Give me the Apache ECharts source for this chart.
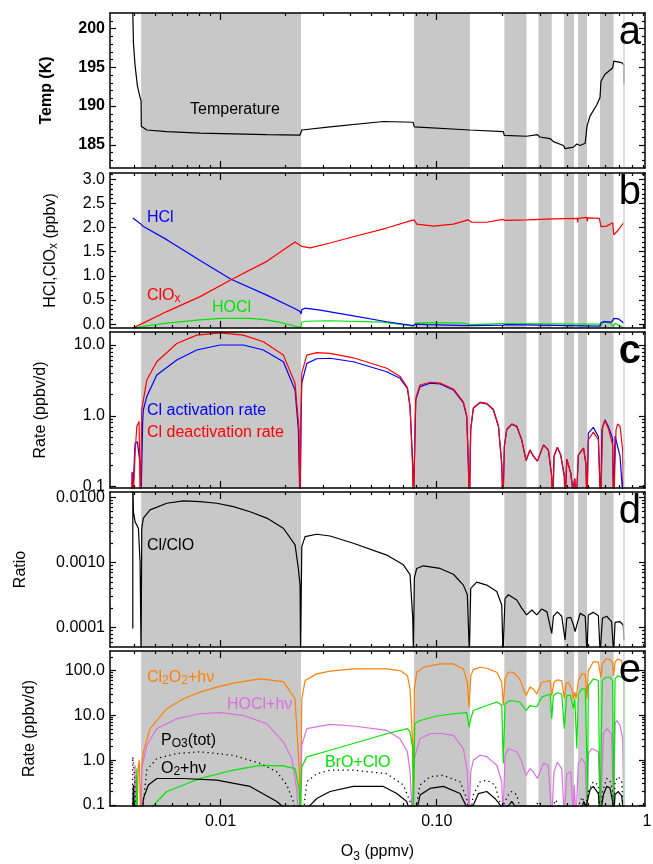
<!DOCTYPE html>
<html><head><meta charset="utf-8">
<script src="https://cdn.jsdelivr.net/npm/echarts@6/dist/echarts.min.js"></script>
<style>html,body{margin:0;padding:0;background:#fff}#c{width:653px;height:864px}</style>
</head><body><div id="c"></div>
<script>
// ---------------- data ----------------
const nightBands = [[0.00429,0.02357],[0.0786,0.1423],[0.2054,0.2603],[0.2955,0.3403],[0.3880,0.4315],[0.4505,0.4955],[0.5691,0.6576]];
const endMarkerO3 = 0.7345;

const xMajorTicks = [0.01, 0.1];
const xMinorTicks = [0.004,0.005,0.006,0.007,0.008,0.009,0.02,0.03,0.04,0.05,0.06,0.07,0.08,0.09,0.2,0.3,0.4,0.5,0.6,0.7,0.8,0.9];
const xEndLabel = '1';

const tempTicks = [185,190,195,200];
const tempMinor = [183,184,186,187,188,189,191,192,193,194,196,197,198,199,201];
const chemTicks = [0,0.5,1,1.5,2,2.5,3];
const chemMinor = [0.1,0.2,0.3,0.4,0.6,0.7,0.8,0.9,1.1,1.2,1.3,1.4,1.6,1.7,1.8,1.9,2.1,2.2,2.3,2.4,2.6,2.7,2.8,2.9,3.1];
const rateTicks = [0.1,1,10];
const rateMinor = [0.2,0.3,0.4,0.5,0.6,0.7,0.8,0.9,2,3,4,5,6,7,8,9];
const ratioTicks = [0.0001,0.001,0.01];
const ratioMinor = [0.00006,0.00007,0.00008,0.00009,0.0002,0.0003,0.0004,0.0005,0.0006,0.0007,0.0008,0.0009,0.002,0.003,0.004,0.005,0.006,0.007,0.008,0.009];
const rateETicks = [0.1,1,10,100];
const rateEMinor = [0.2,0.3,0.4,0.5,0.6,0.7,0.8,0.9,2,3,4,5,6,7,8,9,20,30,40,50,60,70,80,90,200];

const temperature = [[0.00390,203],[0.003927,202],[0.003952,198.2],[0.004024,195.2],[0.004124,192.6],[0.004243,191.1],[0.004288,190.7],[0.00430,187.4],[0.004557,186.9],[0.005638,186.7],[0.008038,186.5],[0.01146,186.4],[0.01636,186.3],[0.02332,186.25],[0.02357,186.3],[0.02375,186.9],[0.0321,187.3],[0.0566,188.0],[0.0778,187.9],[0.07878,187.3],[0.1423,186.9],[0.1426,186.7],[0.2032,186.7],[0.2054,186.2],[0.2603,186.1],[0.2922,186.3],[0.2955,186.4],[0.3000,186.0],[0.306,185.9],[0.3345,185.8],[0.3465,185.4],[0.3855,184.9],[0.3922,184.5],[0.4289,184.7],[0.4444,185.1],[0.4605,184.9],[0.4861,185.2],[0.4954,187.4],[0.5117,188.7],[0.551,190.2],[0.5691,191.1],[0.5750,193.2],[0.6001,194.1],[0.6507,194.9],[0.6597,195.8],[0.7168,195.6],[0.7345,195.3],[0.7346,192.8]];

const hcl = [[0.003927,2.20],[0.004288,2.07],[0.00432,2.04],[0.004395,2.02],[0.005638,1.75],[0.008038,1.32],[0.01118,0.93],[0.01636,0.60],[0.02211,0.32],[0.02332,0.26],[0.02357,0.21],[0.02375,0.30],[0.0246,0.33],[0.02885,0.29],[0.04114,0.17],[0.05871,0.05],[0.0780,-0.03],[0.0786,-0.04],[0.0800,0.0],[0.0900,-0.01],[0.1423,-0.03],[0.1426,-0.01],[0.2032,-0.02],[0.2054,-0.03],[0.2108,-0.01],[0.5691,-0.04],[0.5750,0.03],[0.5898,0.05],[0.6440,0.04],[0.6576,0.03],[0.6597,0.12],[0.6915,0.11],[0.7345,0.02]];
const hocl = [[0.003927,-0.08],[0.004288,-0.05],[0.005638,0.02],[0.008038,0.09],[0.00995,0.12],[0.01369,0.12],[0.01636,0.09],[0.01952,0.02],[0.0229,-0.06],[0.02357,-0.06],[0.02375,0.04],[0.0246,0.06],[0.0321,0.07],[0.0566,0.04],[0.0780,-0.04],[0.0786,-0.05],[0.0800,0.02],[0.0900,0.03],[0.1328,0.02],[0.1423,-0.01],[0.1451,0.02],[0.2032,0.01],[0.2054,-0.01],[0.2108,0.01],[0.5652,0.0],[0.5731,-0.05],[0.5898,0.04],[0.6328,0.02],[0.6576,-0.05],[0.668,0.02],[0.7345,-0.08]];
const clox = [[0.003927,-0.08],[0.004288,0.0],[0.005638,0.26],[0.008038,0.57],[0.01118,0.92],[0.01636,1.30],[0.02211,1.70],[0.02375,1.61],[0.02596,1.58],[0.0321,1.68],[0.04114,1.81],[0.05871,1.99],[0.07525,2.14],[0.0786,2.16],[0.08082,2.07],[0.09645,2.03],[0.1194,2.07],[0.1396,2.16],[0.1451,2.11],[0.1703,2.11],[0.2019,2.17],[0.2070,2.15],[0.2603,2.16],[0.3465,2.18],[0.4476,2.19],[0.4480,2.11],[0.4518,2.19],[0.4954,2.21],[0.4970,2.13],[0.5000,2.20],[0.5652,2.19],[0.5750,2.02],[0.6108,2.03],[0.6507,2.10],[0.6597,1.85],[0.6915,1.95],[0.7345,2.11]];

const activationRate = [[0.003885,0.05],[0.003900,0.16],[0.003927,0.05],[0.003952,0.12],[0.004024,0.41],[0.004124,0.43],[0.004243,0.21],[0.00428,0.05],[0.0043,0.05],[0.00436,0.8],[0.004395,1.22],[0.004557,1.87],[0.00507,3.78],[0.006272,6.15],[0.007759,8.5],[0.00995,10],[0.01275,10],[0.01578,8.5],[0.01952,5.8],[0.02211,2.32],[0.0229,0.64],[0.02332,0.05],[0.02357,0.9],[0.02375,2.89],[0.02505,5.5],[0.02786,6.4],[0.0321,6.5],[0.04114,5.8],[0.05871,4.2],[0.06765,3.39],[0.07315,2.45],[0.07525,1.35],[0.07745,0.21],[0.0780,0.05],[0.07997,1.68],[0.0837,2.59],[0.09311,2.89],[0.1036,2.82],[0.1194,2.32],[0.1328,1.52],[0.1376,0.98],[0.1400,0.21],[0.1416,0.05],[0.1436,0.64],[0.1477,1.28],[0.1586,1.54],[0.1703,1.48],[0.1827,1.22],[0.1929,0.71],[0.1998,0.21],[0.2025,0.05],[0.2054,0.37],[0.2108,0.64],[0.2223,0.76],[0.2344,0.71],[0.2472,0.46],[0.2588,0.235],[0.2701,0.33],[0.2798,0.27],[0.2922,0.23],[0.3118,0.39],[0.3283,0.33],[0.3403,0.14],[0.3440,0.05],[0.3487,0.27],[0.3613,0.36],[0.3746,0.28],[0.3893,0.14],[0.3922,0.05],[0.3994,0.245],[0.4063,0.25],[0.4167,0.156],[0.4260,0.09],[0.4352,0.13],[0.4412,0.05],[0.4518,0.28],[0.4773,0.35],[0.4899,0.21],[0.4954,0.05],[0.5025,0.57],[0.530,0.69],[0.5592,0.51],[0.5731,0.05],[0.5811,0.64],[0.6001,0.88],[0.622,0.71],[0.6507,0.48],[0.6576,0.05],[0.668,0.52],[0.6800,0.5],[0.7044,0.27],[0.7243,0.08],[0.7345,0.24]];
const deactivationRate = [[0.003885,0.05],[0.003900,0.16],[0.003927,0.05],[0.004024,0.3],[0.004098,0.71],[0.004198,0.83],[0.004243,0.8],[0.004257,0.05],[0.0043,0.05],[0.00432,1.22],[0.004395,1.68],[0.004557,3.2],[0.00507,5.8],[0.006272,10.5],[0.007759,13.8],[0.00995,14.8],[0.01275,13.8],[0.01578,11.1],[0.01952,7.2],[0.02211,2.89],[0.02307,0.64],[0.02332,0.05],[0.02357,1.2],[0.02375,4.0],[0.02505,7.2],[0.02786,7.8],[0.0321,7.6],[0.04114,6.6],[0.05871,4.7],[0.06765,3.6],[0.07315,2.5],[0.07525,1.35],[0.07745,0.17],[0.0780,0.05],[0.07997,1.78],[0.0837,2.73],[0.09311,2.98],[0.1036,2.9],[0.1194,2.4],[0.1328,1.56],[0.1376,1.0],[0.1400,0.21],[0.1416,0.05],[0.1436,0.66],[0.1477,1.3],[0.1586,1.56],[0.1703,1.5],[0.1827,1.24],[0.1929,0.72],[0.1998,0.21],[0.2025,0.05],[0.2054,0.37],[0.2108,0.65],[0.2223,0.77],[0.2344,0.72],[0.2472,0.46],[0.2588,0.235],[0.2701,0.33],[0.2798,0.27],[0.2922,0.23],[0.3118,0.39],[0.3283,0.33],[0.3403,0.14],[0.3440,0.05],[0.3487,0.27],[0.3613,0.36],[0.3746,0.28],[0.3893,0.14],[0.3922,0.05],[0.3994,0.245],[0.4063,0.25],[0.4167,0.156],[0.4260,0.09],[0.4352,0.13],[0.4412,0.05],[0.4518,0.28],[0.4773,0.35],[0.4899,0.21],[0.4954,0.05],[0.5025,0.46],[0.530,0.59],[0.5592,0.46],[0.5731,0.05],[0.5853,0.71],[0.6001,0.86],[0.622,0.66],[0.6507,0.39],[0.6576,0.05],[0.6751,0.64],[0.6872,0.77],[0.7044,0.71],[0.7243,0.33],[0.7345,0.05]];

const clToClo = [[0.003927,0.000097],[0.003927,0.02],[0.003952,0.006],[0.004024,0.0042],[0.004168,0.00335],[0.004243,0.00103],[0.004288,0.00004],[0.00432,0.00335],[0.004395,0.0048],[0.004719,0.0064],[0.005638,0.0081],[0.006729,0.0088],[0.008038,0.0086],[0.009603,0.0081],[0.01146,0.00718],[0.01369,0.006],[0.01636,0.0048],[0.01952,0.00335],[0.02211,0.00186],[0.0229,0.00081],[0.02332,0.00045],[0.02345,0.00004],[0.02375,0.00175],[0.0246,0.00249],[0.02786,0.00271],[0.0321,0.00255],[0.04114,0.00197],[0.05871,0.0013],[0.07007,0.00092],[0.07525,0.00065],[0.07745,0.000139],[0.0780,0.00004],[0.07878,0.00058],[0.08082,0.00081],[0.0867,0.00089],[0.1036,0.00081],[0.1194,0.00066],[0.1328,0.00045],[0.1385,0.00032],[0.1416,0.00004],[0.1436,0.0004],[0.1531,0.0005],[0.1703,0.00045],[0.1895,0.00036],[0.1998,0.000223],[0.2025,0.00004],[0.207,0.00028],[0.2144,0.00032],[0.2344,0.000266],[0.2472,0.0002],[0.2603,0.000157],[0.2755,0.000187],[0.2901,0.000157],[0.306,0.000194],[0.3235,0.000175],[0.3403,0.000082],[0.3465,0.00015],[0.3613,0.000175],[0.3786,0.00015],[0.3922,0.000065],[0.3994,0.00014],[0.4167,0.000144],[0.4289,0.00011],[0.4366,0.000087],[0.4412,0.0001],[0.4605,0.000166],[0.4861,0.00015],[0.4954,0.00004],[0.5025,0.000157],[0.530,0.000172],[0.5592,0.000153],[0.5700,0.00004],[0.5840,0.00014],[0.6108,0.00015],[0.6440,0.000124],[0.6576,0.00004],[0.668,0.000121],[0.7044,0.000124],[0.7292,0.00011],[0.7345,0.000065]];

const cl2o2Photolysis = [[0.00410,0.05],[0.004168,0.78],[0.004212,1.0],[0.00426,0.05],[0.0043,0.05],[0.00432,0.78],[0.004395,1.54],[0.004719,5.06],[0.005638,14.1],[0.006729,23.5],[0.008038,33],[0.009603,42.8],[0.01146,52.5],[0.01523,65.5],[0.01952,57],[0.02211,23.5],[0.02315,0.55],[0.02345,0.05],[0.02375,23.5],[0.0246,60],[0.02786,84.5],[0.0321,97],[0.04114,109],[0.05871,109],[0.06765,100],[0.07315,77],[0.07525,39],[0.07745,2.0],[0.0780,0.05],[0.07878,39],[0.08082,92],[0.0867,119],[0.1036,141],[0.1194,141],[0.1328,109],[0.1385,55],[0.1411,15],[0.1436,77],[0.1477,105],[0.1586,119],[0.1703,113],[0.1895,92],[0.1998,55],[0.2032,16.6],[0.207,65.5],[0.2144,92],[0.2258,92],[0.2419,65.5],[0.2588,27.8],[0.2701,42.8],[0.2798,39],[0.2901,30],[0.306,55],[0.3345,60],[0.3403,27.8],[0.3487,55],[0.3613,62],[0.3786,60],[0.3893,23.5],[0.3965,50.6],[0.4063,55],[0.4212,39],[0.4289,23.5],[0.4352,33],[0.4412,23.5],[0.4518,60],[0.4685,84.5],[0.4861,84.5],[0.4954,23.5],[0.5025,100],[0.530,158],[0.5592,154],[0.5691,92],[0.5750,70],[0.5829,141],[0.6064,182],[0.6328,175],[0.6507,154],[0.6576,77],[0.668,154],[0.6872,182],[0.7168,167],[0.7292,77],[0.7345,46]];
const hoclPhotolysis = [[0.00397,0.05],[0.004024,0.78],[0.00407,0.05],[0.00428,0.05],[0.00432,0.65],[0.004557,2.15],[0.00507,5.06],[0.006272,8.45],[0.008038,10.9],[0.00995,11.5],[0.01275,10],[0.01636,6.5],[0.01952,2.57],[0.02135,1.09],[0.02251,0.23],[0.0229,0.05],[0.02357,0.3],[0.02375,2.15],[0.02505,5.06],[0.0321,6.3],[0.04114,5.8],[0.05871,4.65],[0.06765,3.0],[0.07315,1.54],[0.07525,0.55],[0.0770,0.05],[0.07878,1.09],[0.0837,3.0],[0.09311,3.9],[0.1036,4.0],[0.1194,3.6],[0.1328,1.82],[0.1385,0.55],[0.1411,0.05],[0.1436,0.55],[0.1477,1.0],[0.1586,1.29],[0.1703,1.2],[0.1895,0.77],[0.1998,0.33],[0.2025,0.05],[0.207,1.29],[0.2144,1.82],[0.2344,1.54],[0.2472,0.92],[0.2588,0.46],[0.2701,0.65],[0.2798,0.55],[0.2922,0.39],[0.3118,0.85],[0.3283,0.77],[0.3403,0.05],[0.3487,0.55],[0.3613,0.9],[0.3786,0.65],[0.3893,0.05],[0.3994,0.5],[0.4167,0.55],[0.4289,0.05],[0.4320,0.28],[0.4412,0.05],[0.4518,0.85],[0.4685,1.09],[0.4861,0.85],[0.4954,0.05],[0.5025,1.41],[0.5210,1.82],[0.5592,1.54],[0.5731,0.05],[0.5898,3.9],[0.6108,5.06],[0.6440,3.9],[0.6576,0.05],[0.668,6.5],[0.6800,7.7],[0.7044,6.0],[0.7243,3.0],[0.7345,0.05]];
const broPlusClo = [[0.00405,0.05],[0.004098,0.65],[0.00413,0.05],[0.00470,0.08],[0.005638,0.2],[0.008038,0.39],[0.01146,0.6],[0.01523,0.77],[0.01952,0.75],[0.02211,0.65],[0.02307,0.23],[0.02340,0.05],[0.02375,0.71],[0.02505,1.19],[0.0321,1.67],[0.05871,3.9],[0.07315,5.06],[0.07525,4.27],[0.07745,1.82],[0.0780,0.05],[0.0791,6.5],[0.0837,7.7],[0.1,9.7],[0.1194,10.9],[0.1376,11.5],[0.1411,5.5],[0.1436,8.4],[0.1477,12.9],[0.1703,16.6],[0.1895,19.9],[0.1998,17],[0.2032,0.85],[0.207,18.2],[0.2182,21.5],[0.2419,19.9],[0.2588,12.9],[0.2701,16.6],[0.2901,15.4],[0.306,25.6],[0.3345,30],[0.3403,8.4],[0.3465,28],[0.3613,32],[0.3786,30],[0.3893,5.06],[0.3994,28],[0.4150,28],[0.4289,14.1],[0.4352,23.5],[0.4444,1.82],[0.4518,30],[0.4685,39],[0.4861,39],[0.4954,0.77],[0.4980,0.05],[0.5025,46],[0.530,65.5],[0.5592,60],[0.5700,0.05],[0.5829,60],[0.6064,71],[0.6328,71],[0.6507,60],[0.6576,0.05],[0.668,65.5],[0.6872,77],[0.7168,71],[0.7345,65.5],[0.7346,0.05]];
const po3Total = [[0.003910,0.05],[0.003927,1.19],[0.00400,0.4],[0.00405,0.05],[0.00432,0.05],[0.004557,0.6],[0.00507,1.09],[0.006272,1.41],[0.008038,1.54],[0.01146,1.29],[0.01523,0.85],[0.0182,0.55],[0.02024,0.28],[0.02171,0.12],[0.0225,0.05],[0.0240,0.05],[0.02505,0.33],[0.02786,0.5],[0.0321,0.6],[0.04114,0.6],[0.05871,0.5],[0.07007,0.28],[0.07525,0.12],[0.0770,0.05],[0.0800,0.08],[0.0837,0.28],[0.09311,0.43],[0.1073,0.46],[0.1282,0.33],[0.1376,0.14],[0.1420,0.05],[0.1477,0.17],[0.1586,0.33],[0.1703,0.36],[0.1859,0.28],[0.1998,0.08],[0.2070,0.12],[0.2144,0.17],[0.2223,0.2],[0.2344,0.17],[0.2420,0.09],[0.2850,0.09],[0.2960,0.12],[0.3100,0.09],[0.3450,0.09],[0.3550,0.13],[0.3700,0.09],[0.4500,0.09],[0.4700,0.15],[0.4900,0.09],[0.5025,0.2],[0.530,0.33],[0.5592,0.28],[0.5691,0.05],[0.5853,0.2],[0.6108,0.39],[0.6328,0.36],[0.6507,0.2],[0.6576,0.05],[0.668,0.33],[0.6915,0.43],[0.7168,0.33],[0.7345,0.05]];
const o2Photolysis = [[0.00392,0.05],[0.00395,0.28],[0.00400,0.05],[0.00432,0.05],[0.004395,0.14],[0.004634,0.28],[0.00507,0.39],[0.006729,0.39],[0.009603,0.36],[0.01369,0.26],[0.0182,0.12],[0.01952,0.09],[0.02547,0.09],[0.02786,0.14],[0.0321,0.2],[0.04114,0.26],[0.0566,0.26],[0.06531,0.18],[0.07265,0.12],[0.0740,0.09],[0.0815,0.09],[0.0837,0.167],[0.09311,0.235],[0.1073,0.26],[0.1282,0.18],[0.1376,0.09],[0.1477,0.1],[0.1559,0.18],[0.1703,0.2],[0.1859,0.14],[0.1998,0.09],[0.2144,0.095],[0.2223,0.12],[0.2300,0.095],[0.4700,0.09],[0.4790,0.12],[0.4900,0.09],[0.5025,0.15],[0.5117,0.22],[0.530,0.26],[0.5592,0.18],[0.5691,0.05],[0.5898,0.17],[0.6108,0.26],[0.6328,0.24],[0.6507,0.12],[0.6576,0.05],[0.668,0.17],[0.6915,0.2],[0.7168,0.16],[0.7345,0.05]];

// ---------------- layout / style ----------------
const FONT = 'Liberation Sans';
const X_MIN = 0.00308, X_MAX = 0.919;
const GL = 110, GW = 535;
const grids = [{top:13,height:155},{top:173,height:155},{top:332,height:156},{top:492,height:155},{top:651,height:156}];
const BLUE='#0000ff', RED='#ff0000', GREEN='#00e600', ORANGE='#ff8000', PINK='#dd6ee0', BLACK='#000000';

const panelY = [
  {type:'value', min:182, max:202, major:tempTicks, minor:tempMinor, fmt:v=>String(v), bold:true, name:'Temp (K)', gap:54},
  {type:'value', min:-0.08, max:3.13, major:chemTicks, minor:chemMinor, fmt:v=>v.toFixed(1), name:'HCl,ClO{s|x} (ppbv)', gap:50},
  {type:'log', min:0.096, max:15.26, major:rateTicks, minor:rateMinor, fmt:v=>v.toFixed(1), name:'Rate (ppbv/d)', gap:60},
  {type:'log', min:5.06e-5, max:0.01205, major:ratioTicks, minor:ratioMinor, fmt:v=>v.toFixed(4), name:'Ratio', gap:80},
  {type:'log', min:0.095, max:274, major:rateETicks, minor:rateEMinor, fmt:v=>v.toFixed(1), name:'Rate (ppbv/d)', gap:71}
];

const subRich = {s:{fontSize:12, fontFamily:FONT, color:'#000', verticalAlign:'bottom', lineHeight:12}};
const lineBlack = {color:'#000', width:1.5};
const tickBlack = {color:'#000', width:1.2};

const xAxes = [], yAxes = [], extraX = [], extraY = [];
grids.forEach((g, i) => {
  const isLast = i === grids.length - 1;
  const base = {gridIndex:i, type:'log', min:X_MIN, max:X_MAX, splitLine:{show:false}, silent:true, z:5};
  xAxes.push(Object.assign({}, base, {position:'bottom',
    axisLine:{show:true, onZero:false, lineStyle:lineBlack},
    axisTick:{show:true, inside:true, length:7, customValues:xMajorTicks, lineStyle:tickBlack},
    axisLabel:{show:isLast, customValues:xMajorTicks, formatter:v=>v.toFixed(2), fontFamily:FONT, fontSize:16, color:'#000', margin:8},
    name: isLast ? 'O{s|3} (ppmv)' : '', nameLocation:'middle', nameGap:35,
    nameTextStyle:{fontFamily:FONT, fontSize:16, color:'#000', lineHeight:22, rich:subRich}}));
  extraX.push(Object.assign({}, base, {position:'bottom', axisLine:{show:false, onZero:false},
    axisTick:{show:true, inside:true, length:3, customValues:xMinorTicks, lineStyle:tickBlack}, axisLabel:{show:false}}));
  extraX.push(Object.assign({}, base, {position:'top', axisLine:{show:true, onZero:false, lineStyle:lineBlack},
    axisTick:{show:true, inside:true, length:7, customValues:xMajorTicks, lineStyle:tickBlack}, axisLabel:{show:false}}));
  extraX.push(Object.assign({}, base, {position:'top', axisLine:{show:false, onZero:false},
    axisTick:{show:true, inside:true, length:3, customValues:xMinorTicks, lineStyle:tickBlack}, axisLabel:{show:false}}));

  const p = panelY[i];
  const yb = {gridIndex:i, type:p.type, min:p.min, max:p.max, splitLine:{show:false}, silent:true, z:5};
  yAxes.push(Object.assign({}, yb, {position:'left',
    axisLine:{show:true, onZero:false, lineStyle:lineBlack},
    axisTick:{show:true, inside:true, length:6, customValues:p.major, lineStyle:tickBlack},
    axisLabel:{show:true, customValues:p.major, formatter:p.fmt, fontFamily:FONT, fontSize:16, color:'#000', margin:5, fontWeight:p.bold?'bold':'normal'},
    name:p.name, nameLocation:'middle', nameGap:p.gap, nameRotate:90,
    nameTextStyle:{fontFamily:FONT, fontSize:16, color:'#000', fontWeight:p.bold?'bold':'normal', lineHeight:18, rich:subRich}}));
  extraY.push(Object.assign({}, yb, {position:'left', axisLine:{show:false, onZero:false},
    axisTick:{show:true, inside:true, length:3, customValues:p.minor, lineStyle:tickBlack}, axisLabel:{show:false}}));
  extraY.push(Object.assign({}, yb, {position:'right', axisLine:{show:true, onZero:false, lineStyle:lineBlack},
    axisTick:{show:true, inside:true, length:6, customValues:p.major, lineStyle:tickBlack}, axisLabel:{show:false}}));
  extraY.push(Object.assign({}, yb, {position:'right', axisLine:{show:false, onZero:false},
    axisTick:{show:true, inside:true, length:3, customValues:p.minor, lineStyle:tickBlack}, axisLabel:{show:false}}));
});

const series = [];
grids.forEach((g, i) => {
  series.push({type:'line', xAxisIndex:i, yAxisIndex:i, data:[], silent:true, z:1, symbol:'none',
    markArea:{silent:true, itemStyle:{color:'#c8c8c8'}, data:nightBands.map(b=>[{xAxis:b[0]},{xAxis:b[1]}])},
    markLine:{silent:true, symbol:['none','none'], label:{show:false}, lineStyle:{color:'#d6d6d6', width:1.5, type:'solid'}, data:[{xAxis:endMarkerO3}]}});
});
function addLine(i, data, color, extra) {
  series.push(Object.assign({type:'line', xAxisIndex:i, yAxisIndex:i, data:data, symbol:'none', showSymbol:false, z:3, clip:true, silent:true,
    lineStyle:{color:color, width:1.2}}, extra||{}));
}
addLine(0, temperature, BLACK);
addLine(1, hocl, GREEN);
addLine(1, hcl, BLUE);
addLine(1, clox, RED);
addLine(2, activationRate, BLUE);
addLine(2, deactivationRate, RED);
addLine(3, clToClo, BLACK);
addLine(4, cl2o2Photolysis, ORANGE);
addLine(4, hoclPhotolysis, PINK);
addLine(4, broPlusClo, GREEN);
addLine(4, po3Total, BLACK, {lineStyle:{color:BLACK, width:1.3, type:[1.3,3.5]}});
addLine(4, o2Photolysis, BLACK);

const notes = [
  {t:'Temperature', x:190, y:110, c:BLACK},
  {t:'HCl', x:147, y:218, c:BLUE},
  {t:'ClO{s|x}', x:147, y:296, c:RED},
  {t:'HOCl', x:212, y:308, c:GREEN},
  {t:'Cl activation rate', x:147, y:411, c:BLUE},
  {t:'Cl deactivation rate', x:147, y:433, c:RED},
  {t:'Cl/ClO', x:147, y:546, c:BLACK},
  {t:'Cl{s|2}O{s|2}+hν', x:147, y:678, c:ORANGE},
  {t:'HOCl+hν', x:227, y:705, c:PINK},
  {t:'P{s|O3}(tot)', x:161, y:741, c:BLACK},
  {t:'O{s|2}+hν', x:161, y:769, c:BLACK},
  {t:'BrO+ClO', x:325, y:763, c:GREEN}
];
const letters = ['a','b','c','d','e'];
const graphic = notes.map(n => ({type:'text', x:n.x, y:n.y, silent:true, z:50,
  style:{text:n.t, fill:n.c, font:'16px "'+FONT+'"', verticalAlign:'middle', align:'left', textAlign:'left', lineHeight:18,
    rich:{s:{fontSize:12, fontFamily:FONT, fill:n.c, verticalAlign:'bottom', lineHeight:12}}}}));
letters.forEach((L, i) => {
  graphic.push({type:'text', x:GL+GW-4, y:grids[i].top+20, silent:true, z:50,
    style:{text:L, fill:'#000', font:(L==='c'?'bold ':'')+'40px "'+FONT+'"', textAlign:'right', align:'right', verticalAlign:'middle'}});
});
graphic.push({type:'text', x:GL+GW+2, y:822, silent:true, z:50,
  style:{text:xEndLabel, fill:'#000', font:'16px "'+FONT+'"', textAlign:'center', align:'center', verticalAlign:'middle'}});

const chart = echarts.init(document.getElementById('c'), null, {renderer:'canvas'});
chart.setOption({
  animation:false,
  backgroundColor:'#fff',
  grid: grids.map(g => ({left:GL, width:GW, top:g.top, height:g.height, containLabel:false})),
  xAxis: xAxes.concat(extraX),
  yAxis: yAxes.concat(extraY),
  series: series,
  graphic: graphic
});
</script></body></html>
